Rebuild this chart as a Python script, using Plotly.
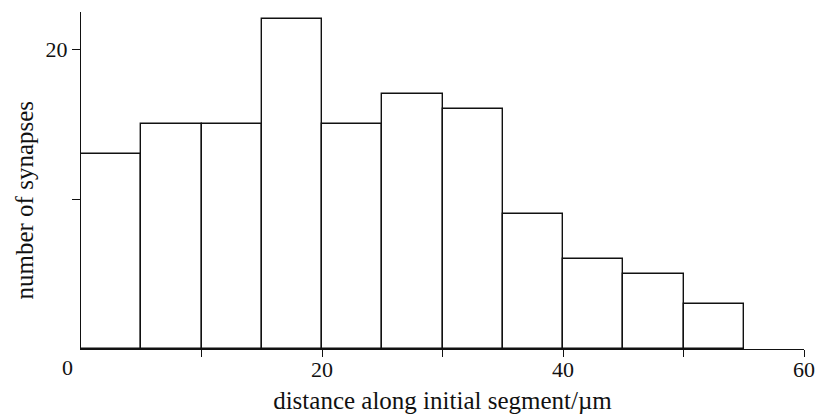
import plotly.graph_objects as go

bin_starts = [0, 5, 10, 15, 20, 25, 30, 35, 40, 45, 50]
bin_width = 5
counts = [13, 15, 15, 22, 15, 17, 16, 9, 6, 5, 3]

x_tickvals = [10, 20, 30, 40, 50, 60]
x_ticktext = ["", "20", "", "40", "", "60"]
y_tickvals = [10, 20]
y_ticktext = ["", "20"]

FONT = "Liberation Serif"
INK = "#111111"

centers = [s + bin_width / 2 for s in bin_starts]

fig = go.Figure(go.Bar(
    x=centers, y=counts, width=[bin_width] * len(counts),
    marker=dict(color="white", line=dict(color=INK, width=1.4)),
    showlegend=False, hoverinfo="skip",
))

fig.update_layout(
    width=817, height=414,
    margin=dict(l=81, r=13, t=12, b=65, pad=0),
    paper_bgcolor="white", plot_bgcolor="white",
    font=dict(family=FONT, size=22, color=INK),
    bargap=0,
    xaxis=dict(
        range=[0, 60], showgrid=False, zeroline=False, automargin=False,
        showline=True, linecolor=INK, linewidth=1.4,
        tickmode="array", tickvals=x_tickvals, ticktext=x_ticktext,
        ticks="outside", ticklen=7, tickwidth=1.4, tickcolor=INK,
        ticklabelstandoff=-7,
        tickfont=dict(family=FONT, size=22, color=INK),
        title=dict(text="distance along initial segment/µm",
                   font=dict(family=FONT, size=25, color=INK), standoff=13),
        fixedrange=True,
    ),
    yaxis=dict(
        range=[0, 22.5], showgrid=False, zeroline=False, automargin=False,
        showline=True, linecolor=INK, linewidth=1.4,
        tickmode="array", tickvals=y_tickvals, ticktext=y_ticktext,
        ticks="outside", ticklen=8, tickwidth=1.4, tickcolor=INK,
        tickfont=dict(family=FONT, size=22, color=INK),
        fixedrange=True,
    ),
    annotations=[
        dict(x=0, y=0, xref="x", yref="y", text="0", showarrow=False,
             xshift=-14, yshift=-18, font=dict(family=FONT, size=22, color=INK)),
        dict(x=0, y=0.5, xref="paper", yref="paper", text="number of synapses",
             textangle=-90, showarrow=False, xanchor="center", yanchor="middle",
             xshift=-57, yshift=-20, font=dict(family=FONT, size=25, color=INK)),
    ],
)

fig.write_html("out.html")
